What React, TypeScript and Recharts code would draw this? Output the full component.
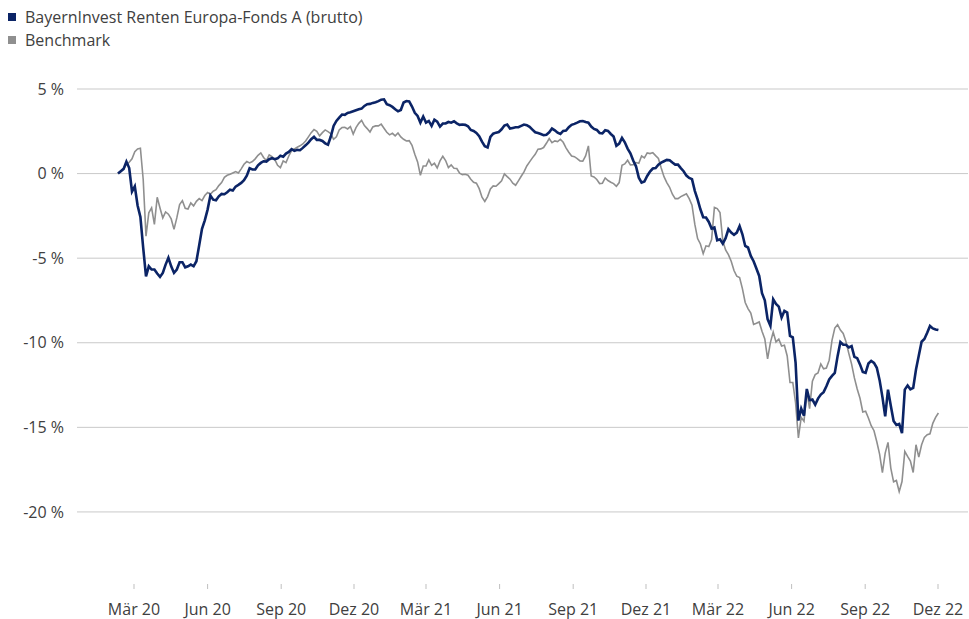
import { LineChart, Line, XAxis, YAxis, CartesianGrid } from 'recharts';

const DAY = 86400000;
// first observation, then one value every 3.5 days
const START = Date.UTC(2020, 1, 10);
const STEP_DAYS = 3.5;

// performance in %
const fundValues = [
  0.0, 0.14, 0.28, 0.71, 0.33, -1.06, -0.75, -1.89, -2.56, -4.39,
  -6.07, -5.48, -5.67, -5.67, -5.91, -6.11, -5.87, -5.38, -4.98, -5.48,
  -5.87, -5.67, -5.24, -5.24, -5.54, -5.48, -5.38, -5.48, -5.18, -4.24,
  -3.27, -2.76, -2.13, -1.3, -1.54, -1.58, -1.34, -1.2, -1.22, -1.1,
  -0.95, -1.0, -0.77, -0.67, -0.55, -0.39, -0.12, 0.32, 0.24, 0.24,
  0.49, 0.63, 0.73, 0.71, 0.85, 0.91, 0.85, 0.9, 1.05, 1.0,
  1.18, 1.28, 1.44, 1.34, 1.4, 1.38, 1.52, 1.67, 1.83, 2.03,
  2.17, 1.99, 1.99, 1.93, 1.79, 1.71, 2.19, 2.82, 3.11, 3.31,
  3.49, 3.47, 3.59, 3.62, 3.68, 3.74, 3.8, 3.84, 4.0, 4.1,
  4.12, 4.18, 4.22, 4.28, 4.37, 4.39, 4.1, 4.04, 3.94, 3.8,
  3.68, 3.76, 4.2, 4.29, 4.27, 3.96, 3.59, 3.41, 3.01, 3.37,
  3.01, 3.11, 2.82, 3.19, 3.07, 2.78, 2.96, 2.96, 3.05, 3.01,
  3.09, 2.97, 2.88, 2.9, 2.88, 2.8, 2.58, 2.52, 2.4, 2.21,
  1.89, 1.62, 1.55, 2.17, 2.36, 2.42, 2.46, 2.62, 2.84, 2.9,
  2.66, 2.7, 2.74, 2.74, 2.82, 2.9, 2.86, 2.76, 2.6, 2.44,
  2.4, 2.34, 2.27, 2.3, 2.44, 2.66, 2.56, 2.42, 2.34, 2.52,
  2.54, 2.74, 2.88, 2.94, 3.01, 3.09, 3.11, 3.05, 3.01, 2.78,
  2.64, 2.58, 2.4, 2.38, 2.56, 2.52, 2.34, 2.19, 1.64, 1.77,
  2.11, 1.85, 1.48, 1.2, 0.77, 0.43, -0.24, -0.53, -0.47, -0.14,
  0.12, 0.3, 0.33, 0.53, 0.65, 0.73, 0.81, 0.79, 0.65, 0.53,
  0.53, 0.32, 0.14, -0.12, -0.26, -0.33, -1.02, -1.52, -2.11, -2.58,
  -2.6, -2.86, -3.25, -3.19, -3.94, -3.88, -4.14, -3.82, -3.29, -3.49,
  -3.62, -3.49, -3.11, -3.59, -4.28, -4.37, -4.87, -5.18, -5.61, -6.05,
  -7.07, -7.49, -8.61, -9.0, -7.43, -7.7, -7.86, -8.51, -8.12, -8.22,
  -9.59, -9.68, -11.19, -14.6, -13.89, -14.31, -12.73, -13.4, -13.36, -13.66,
  -13.3, -13.06, -12.92, -12.57, -12.17, -11.96, -11.78, -10.79, -9.96, -10.12,
  -10.12, -10.28, -10.2, -10.83, -10.91, -11.28, -11.72, -11.78, -11.23, -11.07,
  -11.19, -11.48, -12.21, -13.2, -14.35, -12.77, -13.72, -14.62, -14.86, -14.8,
  -15.34, -12.77, -12.53, -12.75, -12.67, -11.58, -10.75, -9.94, -9.78, -9.41,
  -9.01, -9.15, -9.21, -9.25,
];

const benchmarkValues = [
  0.0, 0.14, 0.28, 0.53, 0.67, 0.87, 1.3, 1.46, 1.5, -0.35,
  -3.7, -2.32, -2.03, -3.0, -1.4, -2.03, -2.62, -2.27, -2.4, -2.68,
  -3.3, -2.62, -1.83, -1.6, -2.05, -2.09, -1.73, -1.91, -1.64, -1.48,
  -1.6, -1.3, -1.12, -1.22, -1.04, -0.95, -0.71, -0.53, -0.22, -0.1,
  -0.04, 0.04, 0.12, 0.04, 0.28, 0.55, 0.71, 0.63, 0.71, 0.87,
  1.08, 1.22, 0.95, 0.77, 1.1, 1.0, 0.83, 0.49, 0.35, 0.75,
  0.65, 1.04, 1.36, 1.46, 1.56, 1.64, 1.75, 1.93, 2.17, 2.42,
  2.6, 2.5, 2.23, 2.42, 2.58, 2.48, 2.36, 2.03, 2.17, 2.58,
  2.72, 2.74, 2.64, 2.78, 2.34, 2.72, 2.97, 3.15, 2.84, 2.66,
  2.46, 2.76, 2.82, 2.82, 2.92, 2.68, 2.44, 2.29, 2.38, 2.23,
  2.4, 2.17, 2.03, 1.93, 1.95, 1.67, 1.14, 0.69, -0.1, 0.45,
  0.45, 0.81, 0.49, 0.61, 0.33, 0.75, 1.02, 0.77, 0.35, 0.51,
  0.32, 0.3, 0.02, -0.06, -0.04, -0.1, -0.33, -0.51, -0.57, -0.89,
  -1.4, -1.65, -1.36, -0.91, -0.73, -0.75, -0.59, -0.43, -0.02, -0.18,
  -0.33, -0.57, -0.69, -0.43, -0.16, 0.1, 0.45, 0.69, 0.93, 1.14,
  1.44, 1.46, 1.54, 1.79, 2.07, 1.83, 1.93, 1.89, 2.03, 1.85,
  1.52, 1.26, 1.04, 1.0, 0.89, 0.75, 0.73, 1.04, 1.64, -0.14,
  -0.2, -0.35, -0.59, -0.57, -0.26, -0.41, -0.51, -0.59, -0.75, -0.53,
  0.49, 0.57, 0.79, 0.51, 0.53, 0.65, 0.61, 1.04, 0.93, 1.22,
  1.18, 1.24, 1.06, 0.89, 0.33, -0.18, -0.53, -0.81, -1.22, -1.48,
  -1.48, -1.36, -1.28, -1.2, -1.48, -1.87, -2.99, -3.84, -4.16, -4.73,
  -4.27, -4.31, -3.9, -2.0, -2.07, -2.3, -3.98, -4.51, -4.79, -5.18,
  -5.73, -6.07, -6.15, -6.8, -7.62, -7.98, -8.25, -8.92, -8.85, -8.77,
  -9.32, -9.77, -10.95, -9.99, -9.36, -9.95, -9.79, -10.19, -10.15, -10.78,
  -12.35, -12.35, -13.56, -15.63, -14.41, -14.64, -12.87, -13.89, -12.27, -11.88,
  -11.78, -11.25, -11.54, -11.5, -11.03, -9.86, -9.13, -8.93, -9.25, -9.45,
  -9.94, -10.63, -11.26, -12.08, -12.73, -13.28, -14.09, -14.05, -14.45, -14.9,
  -15.2, -15.85, -16.58, -17.67, -16.52, -15.89, -17.41, -18.22, -18.14, -18.8,
  -18.2, -16.42, -16.72, -17.0, -17.67, -16.03, -16.76, -16.03, -15.59, -15.43,
  -15.38, -14.76, -14.41, -14.15,
];

const tickMonths: [number, number][] = [
  [2020, 2], [2020, 5], [2020, 8], [2020, 11],
  [2021, 2], [2021, 5], [2021, 8], [2021, 11],
  [2022, 2], [2022, 5], [2022, 8], [2022, 11],
];
const tickLabels = [
  'Mär 20', 'Jun 20', 'Sep 20', 'Dez 20',
  'Mär 21', 'Jun 21', 'Sep 21', 'Dez 21',
  'Mär 22', 'Jun 22', 'Sep 22', 'Dez 22',
];
const yTicks = [5, 0, -5, -10, -15, -20];

const FUND = 'BayernInvest Renten Europa-Fonds A (brutto)';
const BENCH = 'Benchmark';
const NAVY = '#0b2466';
const GREY = '#8f8f8f';
const FONT = "'Open Sans', sans-serif";

const data = fundValues.map((v, i) => ({
  date: START + i * STEP_DAYS * DAY,
  fund: v,
  benchmark: benchmarkValues[i],
}));

const xTicks = tickMonths.map(([y, m]) => Date.UTC(y, m, 1));
const labelFor: Record<number, string> = {};
xTicks.forEach((t, i) => { labelFor[t] = tickLabels[i]; });

const MAR20 = Date.UTC(2020, 2, 1);
const xDomain = [MAR20 - 71.25 * DAY, MAR20 + 1042.5 * DAY];

function LegendItem({ color, label, top }: { color: string; label: string; top: number }) {
  return (
    <div style={{ position: 'absolute', left: 8, top, display: 'flex', alignItems: 'center', height: 20 }}>
      <span style={{ width: 8, height: 8, background: color, display: 'inline-block', marginRight: 9 }} />
      <span style={{ fontFamily: FONT, fontSize: 16, color: '#404040', whiteSpace: 'nowrap' }}>{label}</span>
    </div>
  );
}

export default function App() {
  return (
    <div style={{ position: 'absolute', left: 0, top: 0, width: 969, height: 619 }}>
      <LegendItem color={NAVY} label={FUND} top={7} />
      <LegendItem color={GREY} label={BENCH} top={30} />
      <LineChart width={969} height={619} data={data} margin={{ top: 89, right: 1, left: 0, bottom: 0 }}>
        <CartesianGrid vertical={false} horizontalValues={yTicks} stroke="#c9c9c9" strokeWidth={1} />
        <XAxis
          dataKey="date"
          type="number"
          scale="time"
          domain={xDomain}
          ticks={xTicks}
          tickFormatter={(t: number) => labelFor[t] || ''}
          axisLine={false}
          tickLine={{ stroke: '#bfbfbf' }}
          tickSize={5}
          tickMargin={15}
          height={35}
          interval={0}
          tick={{ fill: '#404040', fontSize: 16, fontFamily: FONT }}
        />
        <YAxis
          type="number"
          domain={[-24.26, 5]}
          ticks={yTicks}
          tickFormatter={(v: number) => `${v} %`}
          axisLine={false}
          tickLine={false}
          tickSize={0}
          tickMargin={13}
          width={77}
          interval={0}
          tick={{ fill: '#404040', fontSize: 16, fontFamily: FONT }}
        />
        <Line
          type="linear"
          dataKey="benchmark"
          name={BENCH}
          stroke={GREY}
          strokeWidth={1.6}
          dot={false}
          isAnimationActive={false}
        />
        <Line
          type="linear"
          dataKey="fund"
          name={FUND}
          stroke={NAVY}
          strokeWidth={2.6}
          dot={false}
          isAnimationActive={false}
        />
      </LineChart>
    </div>
  );
}
